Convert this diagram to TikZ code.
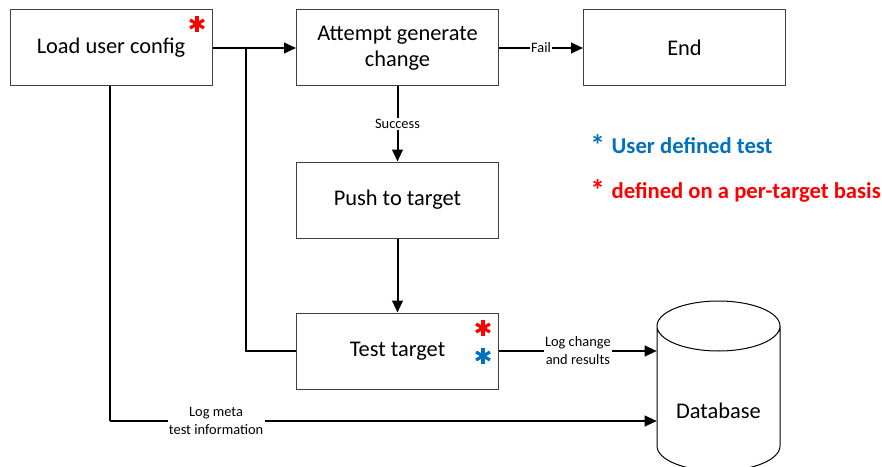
\documentclass[tikz,border=0pt]{standalone}
\usepackage{fontspec}
\setmainfont{Carlito}
\usetikzlibrary{arrows.meta,calc}
\definecolor{ublue}{HTML}{0070C0}
\definecolor{ured}{HTML}{FF0000}
\newcommand{\legstar}{\raisebox{-1.5pt}{\fontsize{22}{22}\selectfont *}}
\begin{document}
\begin{tikzpicture}[x=0.75pt,y=-0.75pt,
 box/.style={draw=black!75, line width=0.75pt, minimum width=151.5pt, minimum height=57pt, inner sep=0pt, align=center, font=\fontsize{16.8}{19.5}\selectfont},
 conn/.style={line width=1.5pt, -{Triangle[length=9pt,width=8pt]}},
 plainline/.style={line width=1.5pt},
 lbl/.style={fill=white, inner sep=1pt, font=\fontsize{10.8}{13.5}\selectfont, align=center},
 legend/.style={anchor=west, inner sep=0pt, font=\fontsize{17}{20}\selectfont\bfseries},
 star/.style={line width=2.4pt},
]
\useasboundingbox (0,0) rectangle (882,467);

\node[box] (load) at (111,48) {Load user config};
\node[box] (att) at (397.5,48) {\raisebox{-2pt}{\begin{tabular}{@{}c@{}}Attempt generate\\change\end{tabular}}};
\node[box] (end) at (684.5,48) {End};
\node[box] (push) at (397.5,200) {Push to target};
\node[box] (test) at (397.5,351) {Test target};

% database cylinder
\draw[line width=0.75pt, fill=white] (657,326) -- (657,446) arc[start angle=180, end angle=0, x radius=61.5, y radius=25] -- (780,326) arc[start angle=0, end angle=180, x radius=61.5, y radius=25] -- cycle;
\draw[line width=0.75pt] (657,326) arc[start angle=180, end angle=360, x radius=61.5, y radius=25];
\node[inner sep=0pt, minimum width=92.25pt, minimum height=90.75pt] (db) at (718.5,386.5) {};
\node[font=\fontsize{16.8}{20}\selectfont] (dblabel) at (718.5,411) {Database};

% asterisks
\foreach \cx/\cy/\col [count=\i] in {197/24/ured, 483/328/ured, 483/356/ublue}{
  \coordinate (s\i) at (\cx,\cy);
  \draw[star, \col] ($(s\i)+(0,-8)$) -- ($(s\i)+(0,8)$);
  \draw[star, \col] ($(s\i)+(-7,-4)$) -- ($(s\i)+(7,4)$);
  \draw[star, \col] ($(s\i)+(-7,4)$) -- ($(s\i)+(7,-4)$);
}

% connectors
\coordinate (j) at (246,48);
\draw[conn] (load.east) -- (att.west);
\draw[plainline] (test.west) -| (j);
\draw[conn] (att.east) -- node[lbl] {Fail} (end.west);
\draw[conn] (att.south) -- node[lbl] {Success} (push.north);
\draw[conn] (push.south) -- (test.north);
\draw[conn] (test.east) -- node[lbl] {Log change\\and results} (db.west |- test.east);
\coordinate (lm) at (110,421);
\draw[plainline] (load.south -| lm) -- (lm);
\draw[conn] (lm) -- node[lbl, pos=0.194] {Log meta\\test information} (db.west |- lm);

% legend
\node[legend, text=ublue] (leg1) at (590,145) {\legstar\hspace{0.3em}User defined test};
\node[legend, text=ured] (leg2) at (590,191) {\legstar\hspace{0.3em}defined on a per-target basis};
\end{tikzpicture}
\end{document}
